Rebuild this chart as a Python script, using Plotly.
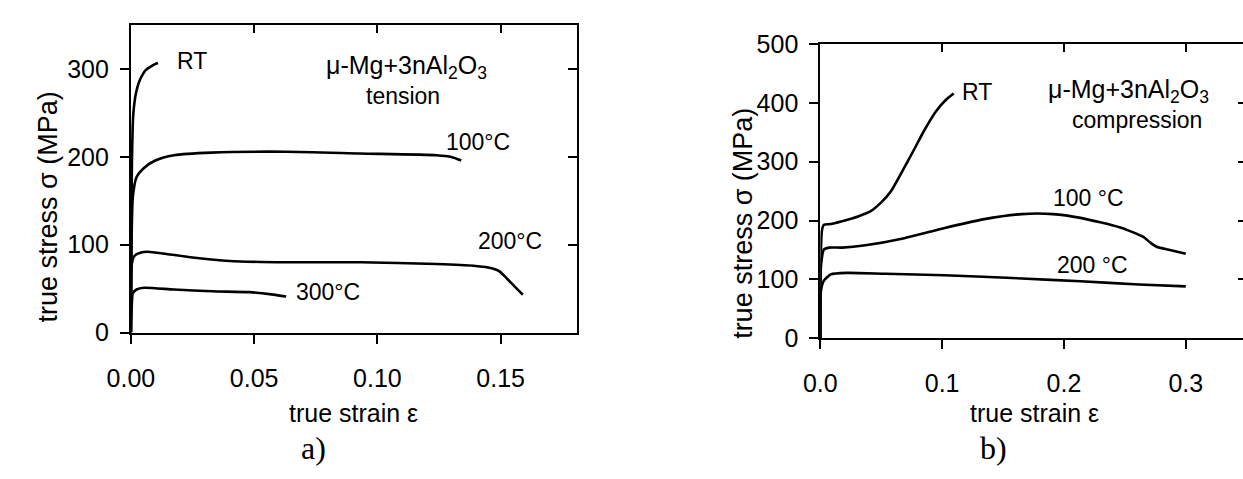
import plotly.graph_objects as go

# ---- tension (panel a) ----
ten_rt_x = [0, 0.0002, 0.0004, 0.0007, 0.001, 0.0015, 0.002, 0.003, 0.004, 0.005, 0.006, 0.008, 0.010, 0.011]
ten_rt_y = [0, 120, 190, 232, 250, 263, 272, 283, 290, 295, 299, 303, 306, 307]

ten_100_x = [0, 0.0003, 0.0008, 0.0023, 0.0053, 0.0099, 0.0175, 0.0327, 0.063, 0.093, 0.124, 0.130, 0.134]
ten_100_y = [0, 110, 155, 177, 187.5, 196, 202, 205, 206, 204, 202, 200, 196]

ten_200_x = [0, 0.0003, 0.0015, 0.0038, 0.0068, 0.0144, 0.025, 0.040, 0.063, 0.093, 0.124, 0.139,
             0.1467, 0.1494, 0.1527, 0.1558, 0.159]
ten_200_y = [0, 77, 87.5, 91, 92, 89.5, 85.5, 81.5, 80, 80, 78, 76, 73, 70, 61, 52, 43]

ten_300_x = [0, 0.0003, 0.0008, 0.0023, 0.0053, 0.0175, 0.033, 0.048, 0.057, 0.063]
ten_300_y = [0, 27, 45, 49, 51, 49, 47, 46, 43.5, 41]

# ---- compression (panel b) ----
com_rt_x = [0, 0.0013, 0.003, 0.0086, 0.018, 0.031, 0.0407, 0.050, 0.058, 0.066, 0.076, 0.0855,
            0.095, 0.103, 0.1095]
com_rt_y = [0, 183, 193, 194, 199, 207, 215, 231, 250, 279, 317, 354, 386, 405, 416]

com_100_x = [0, 0.0006, 0.003, 0.007, 0.018, 0.037, 0.069, 0.1015, 0.1335, 0.1655, 0.191, 0.2136,
             0.2456, 0.2648, 0.2712, 0.276, 0.287, 0.30]
com_100_y = [0, 124, 151, 154, 154, 158, 170, 187, 202, 211, 211, 204.6, 188.6, 172.5, 162,
             155.5, 150, 143.6]

com_200_x = [0, 0.0006, 0.003, 0.0086, 0.0215, 0.0535, 0.1015, 0.1655, 0.2136, 0.2616, 0.30]
com_200_y = [0, 82, 98, 108.4, 111, 109.5, 107, 101.5, 96.7, 91.3, 88]

# tick values
ten_xticks = [0.00, 0.05, 0.10, 0.15]
ten_yticks = [0, 100, 200, 300]
com_xticks = [0.0, 0.1, 0.2, 0.3]
com_yticks = [0, 100, 200, 300, 400, 500]

W, H = 1243, 479
SANS = "Liberation Sans, Arial, sans-serif"
SERIF = "Liberation Serif, Times New Roman, serif"
LINE = dict(color="black", width=2.6, shape="spline", smoothing=0.6)


def px_x(p):
    return p / W


def px_y(p):
    return 1 - p / H


fig = go.Figure()

for xs, ys in [(ten_rt_x, ten_rt_y), (ten_100_x, ten_100_y), (ten_200_x, ten_200_y), (ten_300_x, ten_300_y)]:
    fig.add_trace(go.Scatter(x=xs, y=ys, mode="lines", line=LINE, xaxis="x", yaxis="y",
                             showlegend=False, hoverinfo="skip"))
for xs, ys in [(com_rt_x, com_rt_y), (com_100_x, com_100_y), (com_200_x, com_200_y)]:
    fig.add_trace(go.Scatter(x=xs, y=ys, mode="lines", line=LINE, xaxis="x2", yaxis="y2",
                             showlegend=False, hoverinfo="skip"))

# empty traces carrying the mirrored (inside-tick) frame axes
for xa, ya in [("x3", "y"), ("x", "y3"), ("x4", "y2"), ("x2", "y4")]:
    fig.add_trace(go.Scatter(x=[None], y=[None], mode="lines", xaxis=xa, yaxis=ya,
                             showlegend=False, hoverinfo="skip"))

TEN_XR = [0, 0.181]
TEN_YR = [0, 350]
COM_XR = [0, 0.347]
COM_YR = [0, 500]

dom_x1 = [px_x(109), px_x(564)]
dom_y1 = [px_y(338.3), px_y(12)]
dom_x2 = [px_x(812), 1.0]
dom_y2 = [px_y(344.3), px_y(32)]

tickfont = dict(family=SANS, size=25, color="black")
common = dict(showgrid=False, zeroline=False, showline=True, linecolor="black", linewidth=2,
              ticks="outside", ticklen=9, tickwidth=2, tickcolor="black", tickfont=tickfont,
              fixedrange=True)

fig.update_layout(
    width=W, height=H,
    margin=dict(l=0, r=0, t=0, b=0),
    paper_bgcolor="white", plot_bgcolor="white",
    xaxis=dict(domain=dom_x1, range=TEN_XR, anchor="y", tickvals=ten_xticks,
               ticktext=[f"{v:.2f}" for v in ten_xticks], ticklabelstandoff=13, **common),
    yaxis=dict(domain=dom_y1, range=TEN_YR, anchor="x", tickvals=ten_yticks,
               ticklabelstandoff=6, **common),
    xaxis2=dict(domain=dom_x2, range=COM_XR, anchor="y2", tickvals=com_xticks,
                ticktext=[f"{v:.1f}" for v in com_xticks], ticklabelstandoff=13, **common),
    yaxis2=dict(domain=dom_y2, range=COM_YR, anchor="x2", tickvals=com_yticks,
                ticklabelstandoff=6, **common),
    xaxis3=dict(overlaying="x", side="top", anchor="y", range=TEN_XR, tickvals=ten_xticks,
                showticklabels=False, showgrid=False, zeroline=False, showline=True,
                linecolor="black", linewidth=2, ticks="inside", ticklen=8, tickwidth=2,
                tickcolor="black", fixedrange=True),
    yaxis3=dict(overlaying="y", side="right", anchor="x", range=TEN_YR, tickvals=ten_yticks,
                showticklabels=False, showgrid=False, zeroline=False, showline=True,
                linecolor="black", linewidth=2, ticks="inside", ticklen=9, tickwidth=2,
                tickcolor="black", fixedrange=True),
    xaxis4=dict(overlaying="x2", side="top", anchor="y2", range=COM_XR, tickvals=com_xticks,
                showticklabels=False, showgrid=False, zeroline=False, showline=True,
                linecolor="black", linewidth=2, ticks="inside", ticklen=8, tickwidth=2,
                tickcolor="black", fixedrange=True),
    yaxis4=dict(overlaying="y2", side="right", anchor="x2", range=COM_YR, tickvals=com_yticks,
                showticklabels=False, showgrid=False, zeroline=False, showline=False,
                ticks="inside", ticklen=5, tickwidth=2, tickcolor="black", fixedrange=True),
)

lab = dict(family=SANS, size=23, color="black")
big = dict(family=SANS, size=25, color="black")
title_font = dict(family=SANS, size=25, color="black")
ytitle_font = dict(family=SANS, size=27, color="black")
alloy = "\u03bc-Mg+3nAl<sub>2</sub>O<sub>3</sub>"

annotations = [
    # curve labels, panel a
    dict(x=0.0246, y=309, xref="x", yref="y", text="RT", font=lab),
    dict(x=0.1406, y=217, xref="x", yref="y", text="100°C", font=lab),
    dict(x=0.1538, y=104, xref="x", yref="y", text="200°C", font=lab),
    dict(x=0.080, y=46, xref="x", yref="y", text="300°C", font=lab),
    dict(x=0.1117, y=302, xref="x", yref="y", text=alloy, font=big),
    dict(x=0.1105, y=269, xref="x", yref="y", text="tension", font=lab),
    # curve labels, panel b
    dict(x=0.129, y=418, xref="x2", yref="y2", text="RT", font=lab),
    dict(x=0.220, y=239, xref="x2", yref="y2", text="100 °C", font=lab),
    dict(x=0.2232, y=124.5, xref="x2", yref="y2", text="200 °C", font=lab),
    dict(x=0.2526, y=421, xref="x2", yref="y2", text=alloy, font=big),
    dict(x=0.260, y=371, xref="x2", yref="y2", text="compression", font=lab),
    # axis titles
    dict(x=px_x(336), y=px_y(424), xref="paper", yref="paper", text="true strain \u03b5", font=title_font),
    dict(x=px_x(1030), y=px_y(424), xref="paper", yref="paper", text="true strain \u03b5", font=title_font),
    dict(x=px_x(24), y=px_y(205), xref="paper", yref="paper", text="true stress \u03c3 (MPa)",
         textangle=-90, font=ytitle_font),
    dict(x=px_x(733), y=px_y(222), xref="paper", yref="paper", text="true stress \u03c3 (MPa)",
         textangle=-90, font=ytitle_font),
    # panel captions
    dict(x=px_x(295), y=px_y(461), xref="paper", yref="paper", text="a)",
         font=dict(family=SERIF, size=32, color="black")),
    dict(x=px_x(989), y=px_y(461), xref="paper", yref="paper", text="b)",
         font=dict(family=SERIF, size=32, color="black")),
]
for a in annotations:
    a.update(showarrow=False, xanchor="center", yanchor="middle")
fig.update_layout(annotations=annotations)

fig.write_html("out.html")
